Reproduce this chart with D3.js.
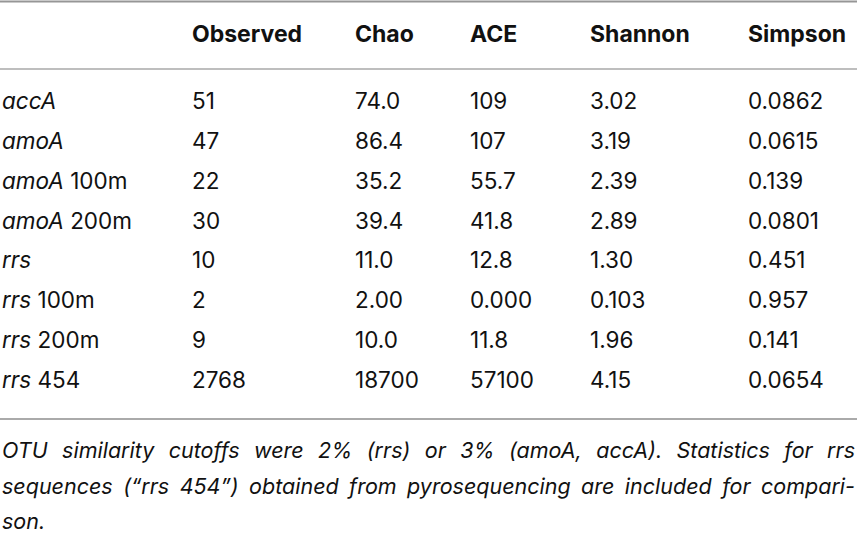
<!DOCTYPE html>
<html>
<head>
<meta charset="utf-8">
<script src="https://cdn.jsdelivr.net/npm/d3@7"></script>
<style>
  html, body { margin: 0; padding: 0; background: #fff; }
  text { font-family: Inter, "Liberation Sans", Arial, sans-serif; fill: #111; }
  .head { font-weight: bold; font-size: 23px; }
  .cell { font-size: 22.5px; }
  .note { font-size: 21.5px; font-style: italic; }
</style>
</head>
<body>
<div id="tbl"></div>
<script>
// table content
const columns = ['Observed', 'Chao', 'ACE', 'Shannon', 'Simpson'];
const genes = ['accA', 'amoA', 'amoA', 'amoA', 'rrs', 'rrs', 'rrs', 'rrs'];
const depths = ['', '', '100m', '200m', '', '100m', '200m', '454'];
const observed = ['51', '47', '22', '30', '10', '2', '9', '2768'];
const chao = ['74.0', '86.4', '35.2', '39.4', '11.0', '2.00', '10.0', '18700'];
const ace = ['109', '107', '55.7', '41.8', '12.8', '0.000', '11.8', '57100'];
const shannon = ['3.02', '3.19', '2.39', '2.89', '1.30', '0.103', '1.96', '4.15'];
const simpson = ['0.0862', '0.0615', '0.139', '0.0801', '0.451', '0.957', '0.141', '0.0654'];
const noteLines = [
  'OTU similarity cutoffs were 2% (rrs) or 3% (amoA, accA). Statistics for rrs',
  'sequences (\u201crrs 454\u201d) obtained from pyrosequencing are included for compari-',
  'son.'
];

const width = 858, height = 534;

const svg = d3.select('#tbl').append('svg')
  .attr('width', width)
  .attr('height', height);

const rowIdx = d3.range(genes.length);
const y = d3.scalePoint().domain(rowIdx).range([109, 388]);
const x = d3.scaleOrdinal()
  .domain(['label'].concat(columns))
  .range([2, 192, 355, 470, 590, 748]);

function drawLine(yPos, color, w) {
  svg.append('line')
    .attr('x1', 0).attr('x2', 857)
    .attr('y1', yPos).attr('y2', yPos)
    .style('stroke', color)
    .style('stroke-width', w);
}

// rules
drawLine(1.5, 'rgb(150,150,150)', 2);
drawLine(69, 'rgb(190,190,190)', 2);
drawLine(419, 'rgb(170,170,170)', 2);

// header
svg.append('g').selectAll('text')
  .data(columns)
  .join('text')
  .attr('class', 'head')
  .attr('x', d => x(d))
  .attr('y', 42)
  .text(d => d);

// row labels: gene italic, depth upright
const labels = svg.append('g').selectAll('text')
  .data(rowIdx)
  .join('text')
  .attr('class', 'cell')
  .attr('x', x('label'))
  .attr('y', d => y(d));
labels.append('tspan').style('font-style', 'italic').text(d => genes[d]);
labels.append('tspan').text(d => depths[d] ? '\u00a0' + depths[d] : '');

// value cells
const series = [observed, chao, ace, shannon, simpson];
series.forEach((vals, ci) => {
  svg.append('g').selectAll('text')
    .data(rowIdx)
    .join('text')
    .attr('class', 'cell')
    .attr('x', x(columns[ci]))
    .attr('y', d => y(d))
    .text(d => vals[d]);
});

// footnote, justified like the printed page
const noteY = [458, 494, 529];
const noteLeft = 2, noteRight = 855;
noteLines.forEach((line, li) => {
  const words = line.split(' ');
  const g = svg.append('g');
  const nodes = words.map(w => g.append('text')
    .attr('class', 'note')
    .attr('y', noteY[li])
    .text(w));
  const widths = nodes.map(n => n.node().getComputedTextLength());
  const total = d3.sum(widths);
  const justify = li < noteLines.length - 1 && words.length > 1;
  let gap = justify ? (noteRight - noteLeft - total) / (words.length - 1) : 6;
  // squeeze the glyphs a bit if the words would not fit
  let k = 1;
  if (gap < 5) {
    k = (noteRight - noteLeft - 5 * (words.length - 1)) / total;
    gap = 5;
  }
  let cx = noteLeft;
  nodes.forEach((n, i) => {
    n.attr('transform', 'translate(' + cx + ',0) scale(' + k + ',1)');
    cx += widths[i] * k + gap;
  });
});
</script>
</body>
</html>
